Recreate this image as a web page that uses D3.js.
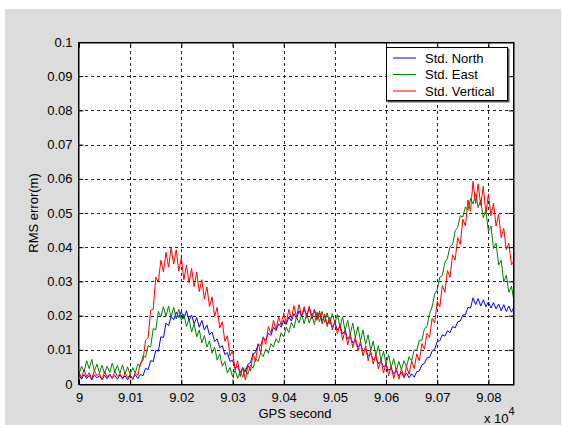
<!DOCTYPE html>
<html>
<head>
<meta charset="utf-8">
<script src="https://cdn.jsdelivr.net/npm/d3@7"></script>
<style>
  body { margin: 0; background: #fff; }
  svg { display: block; }
  text { font-family: Arial, "Liberation Sans", sans-serif; font-size: 13px; fill: #000; }
</style>
</head>
<body>
<div id="chart"></div>
<script>
// GPS time samples every 5 s, starting at 90000
const gpsStart = 90000;
const gpsStep = 5;

const stdNorth = [
  .0026, .0014, .0028, .0016, .0025, .0012, .0027, .0018, .0024, .0013,
  .0026, .0015, .0028, .0017, .0025, .0014, .0027, .0016, .0024, .0012,
  .0026, .0015, .0027, .0016, .0028, .0024, .0046, .0042, .0068, .0066,
  .0098, .0096, .0138, .0136, .0178, .0170, .0198, .0188, .0210, .0194,
  .0212, .0190, .0214, .0186, .0202, .0176, .0194, .0166, .0186, .0158,
  .0172, .0144, .0152, .0124, .0132, .0106, .0112, .0086, .0092, .0066,
  .0070, .0046, .0052, .0034, .0048, .0036, .0058, .0062, .0088, .0092,
  .0116, .0112, .0136, .0128, .0148, .0142, .0166, .0156, .0176, .0166,
  .0186, .0174, .0196, .0184, .0206, .0192, .0214, .0198, .0218, .0202,
  .0222, .0198, .0214, .0194, .0208, .0186, .0198, .0176, .0188, .0166,
  .0178, .0158, .0168, .0146, .0156, .0132, .0138, .0120, .0128, .0108,
  .0116, .0096, .0102, .0082, .0088, .0070, .0078, .0060, .0066, .0050,
  .0056, .0040, .0046, .0030, .0038, .0024, .0034, .0020, .0032, .0018,
  .0030, .0020, .0036, .0038, .0056, .0060, .0076, .0078, .0096, .0102,
  .0124, .0126, .0144, .0140, .0156, .0150, .0168, .0164, .0182, .0184,
  .0202, .0202, .0224, .0222, .0252, .0232, .0250, .0228, .0246, .0226,
  .0240, .0222, .0238, .0220, .0234, .0214, .0232, .0212, .0228, .0210,
  .0226
];

const stdEast = [
  .0028, .0052, .0036, .0068, .0045, .0072, .0038, .0058, .0032, .0055,
  .0030, .0052, .0034, .0061, .0036, .0054, .0031, .0056, .0029, .0050,
  .0027, .0048, .0032, .0058, .0052, .0082, .0078, .0112, .0108, .0162,
  .0158, .0212, .0196, .0226, .0198, .0228, .0195, .0224, .0190, .0218,
  .0186, .0204, .0168, .0190, .0152, .0176, .0138, .0158, .0120, .0142,
  .0108, .0126, .0090, .0108, .0070, .0088, .0052, .0066, .0032, .0048,
  .0022, .0040, .0016, .0038, .0020, .0045, .0028, .0056, .0046, .0074,
  .0066, .0092, .0080, .0102, .0090, .0118, .0108, .0132, .0120, .0150,
  .0138, .0166, .0150, .0180, .0164, .0196, .0178, .0204, .0176, .0206,
  .0178, .0202, .0174, .0210, .0182, .0212, .0180, .0208, .0176, .0206,
  .0178, .0204, .0166, .0196, .0156, .0186, .0146, .0178, .0136, .0168,
  .0126, .0158, .0116, .0144, .0098, .0126, .0082, .0112, .0068, .0096,
  .0058, .0086, .0048, .0074, .0040, .0066, .0042, .0068, .0050, .0080,
  .0068, .0100, .0098, .0128, .0128, .0162, .0168, .0206, .0226, .0262,
  .0276, .0312, .0318, .0356, .0368, .0402, .0408, .0448, .0458, .0492,
  .0488, .0518, .0508, .0542, .0526, .0556, .0516, .0538, .0486, .0508,
  .0446, .0462, .0396, .0412, .0348, .0362, .0298, .0318, .0268, .0286,
  .0242
];

const stdVertical = [
  .0035, .0018, .0042, .0021, .0033, .0015, .0039, .0024, .0031, .0012,
  .0036, .0020, .0029, .0016, .0038, .0022, .0030, .0014, .0034, .0019,
  .0027, .0013, .0033, .0025, .0062, .0068, .0128, .0135, .0215, .0218,
  .0312, .0298, .0362, .0328, .0385, .0342, .0398, .0351, .0392, .0330,
  .0368, .0305, .0348, .0296, .0338, .0285, .0327, .0270, .0305, .0248,
  .0284, .0226, .0255, .0198, .0224, .0164, .0182, .0125, .0141, .0082,
  .0098, .0041, .0068, .0022, .0048, .0012, .0055, .0038, .0089, .0066,
  .0118, .0092, .0138, .0116, .0168, .0148, .0186, .0158, .0197, .0172,
  .0208, .0178, .0218, .0192, .0229, .0196, .0232, .0198, .0226, .0194,
  .0228, .0190, .0219, .0186, .0214, .0176, .0205, .0168, .0196, .0158,
  .0185, .0146, .0176, .0128, .0157, .0114, .0148, .0106, .0138, .0096,
  .0126, .0082, .0112, .0068, .0098, .0058, .0088, .0044, .0072, .0032,
  .0062, .0024, .0052, .0016, .0046, .0014, .0044, .0018, .0052, .0028,
  .0068, .0045, .0088, .0068, .0118, .0102, .0148, .0136, .0192, .0178,
  .0242, .0226, .0288, .0268, .0332, .0312, .0378, .0362, .0428, .0408,
  .0482, .0462, .0538, .0505, .0592, .0528, .0585, .0522, .0578, .0498,
  .0556, .0492, .0528, .0462, .0496, .0428, .0455, .0392, .0412, .0348,
  .0362
];

const xTicks = [90000, 90100, 90200, 90300, 90400, 90500, 90600, 90700, 90800];
const xTickLabels = ["9", "9.01", "9.02", "9.03", "9.04", "9.05", "9.06", "9.07", "9.08"];
const yTicks = [0, 0.01, 0.02, 0.03, 0.04, 0.05, 0.06, 0.07, 0.08, 0.09, 0.1];
const yTickLabels = ["0", "0.01", "0.02", "0.03", "0.04", "0.05", "0.06", "0.07", "0.08", "0.09", "0.1"];

const seriesNames = ["Std. North", "Std. East", "Std. Vertical"];
const seriesColors = ["#0000ff", "#008000", "#ff0000"];
const seriesData = [stdNorth, stdEast, stdVertical];

const width = 563;
const height = 425;
const plot = { left: 79, right: 514, top: 42, bottom: 384 };

const svg = d3.select("#chart")
  .append("svg")
  .attr("width", width)
  .attr("height", height);

// figure background
svg.append("rect")
  .attr("x", 5)
  .attr("y", 9)
  .attr("width", 556)
  .attr("height", height - 9)
  .attr("fill", "#dcdcdc");

const xScale = d3.scaleLinear()
  .domain([90000, 90850])
  .range([plot.left, plot.right]);

const yScale = d3.scaleLinear()
  .domain([0, 0.1])
  .range([plot.bottom, plot.top]);

svg.append("rect")
  .attr("x", plot.left)
  .attr("y", plot.top)
  .attr("width", plot.right - plot.left)
  .attr("height", plot.bottom - plot.top)
  .attr("fill", "#fff");

// grid
const grid = svg.append("g")
  .attr("stroke", "#222")
  .attr("stroke-width", 1)
  .attr("stroke-dasharray", "3,3")
  .attr("shape-rendering", "crispEdges");

xTicks.slice(1).forEach(t => {
  grid.append("line")
    .attr("x1", Math.round(xScale(t)) + 0.5)
    .attr("x2", Math.round(xScale(t)) + 0.5)
    .attr("y1", plot.bottom)
    .attr("y2", plot.top);
});
yTicks.slice(1, -1).forEach(v => {
  grid.append("line")
    .attr("x1", plot.left)
    .attr("x2", plot.right)
    .attr("y1", Math.round(yScale(v)) + 0.5)
    .attr("y2", Math.round(yScale(v)) + 0.5);
});

// series
const clip = svg.append("clipPath").attr("id", "plotClip");
clip.append("rect")
  .attr("x", plot.left)
  .attr("y", plot.top)
  .attr("width", plot.right - plot.left)
  .attr("height", plot.bottom - plot.top);

const line = d3.line()
  .x((d, i) => xScale(gpsStart + i * gpsStep))
  .y(d => yScale(d));

seriesData.forEach((data, k) => {
  svg.append("path")
    .datum(data)
    .attr("d", line)
    .attr("fill", "none")
    .attr("stroke", seriesColors[k])
    .attr("stroke-width", 1)
    .attr("clip-path", "url(#plotClip)");
});

// axes box with inward ticks
const axisG = svg.append("g");

const xAxisBottom = d3.axisBottom(xScale)
  .tickValues(xTicks)
  .tickSizeInner(-5)
  .tickSizeOuter(0)
  .tickPadding(8)
  .tickFormat((d, i) => xTickLabels[i]);

const xAxisTop = d3.axisTop(xScale)
  .tickValues(xTicks)
  .tickSizeInner(-5)
  .tickSizeOuter(0)
  .tickFormat("");

const yAxisLeft = d3.axisLeft(yScale)
  .tickValues(yTicks)
  .tickSizeInner(-5)
  .tickSizeOuter(0)
  .tickPadding(6)
  .tickFormat((d, i) => yTickLabels[i]);

const yAxisRight = d3.axisRight(yScale)
  .tickValues(yTicks)
  .tickSizeInner(-5)
  .tickSizeOuter(0)
  .tickFormat("");

axisG.append("g")
  .attr("transform", "translate(0," + (plot.bottom + 0.5) + ")")
  .call(xAxisBottom);
axisG.append("g")
  .attr("transform", "translate(0," + (plot.top + 0.5) + ")")
  .call(xAxisTop);
axisG.append("g")
  .attr("transform", "translate(" + (plot.left - 0.5) + ",0)")
  .call(yAxisLeft);
axisG.append("g")
  .attr("transform", "translate(" + (plot.right - 0.5) + ",0)")
  .call(yAxisRight);

axisG.selectAll("path.domain, line").attr("stroke", "#000");
axisG.selectAll("text")
  .style("font-family", "Arial, 'Liberation Sans', sans-serif")
  .style("font-size", "13px")
  .attr("fill", "#000");

svg.append("rect")
  .attr("x", plot.left - 0.5)
  .attr("y", plot.top + 0.5)
  .attr("width", plot.right - plot.left)
  .attr("height", plot.bottom - plot.top)
  .attr("fill", "none")
  .attr("stroke", "#000");

// axis titles
svg.append("text")
  .attr("x", 295)
  .attr("y", 418)
  .attr("text-anchor", "middle")
  .text("GPS second");

svg.append("text")
  .attr("transform", "translate(38,213) rotate(-90)")
  .attr("text-anchor", "middle")
  .text("RMS error(m)");

const expo = svg.append("text")
  .attr("x", 484)
  .attr("y", 423);
expo.append("tspan").text("x 10");
expo.append("tspan")
  .attr("dy", -8)
  .style("font-size", "11px")
  .text("4");

// legend
const legend = svg.append("g");
legend.append("rect")
  .attr("x", 387.5)
  .attr("y", 48.5)
  .attr("width", 122)
  .attr("height", 54)
  .attr("fill", "#555");
legend.append("rect")
  .attr("x", 386.5)
  .attr("y", 47.5)
  .attr("width", 121)
  .attr("height", 53)
  .attr("fill", "#fff")
  .attr("stroke", "#000");

seriesNames.forEach((name, k) => {
  const ly = 58 + k * 16.5;
  legend.append("line")
    .attr("x1", 393)
    .attr("x2", 416)
    .attr("y1", ly)
    .attr("y2", ly)
    .attr("stroke", seriesColors[k]);
  legend.append("text")
    .attr("x", 425)
    .attr("y", ly + 4.5)
    .text(name);
});
</script>
</body>
</html>
